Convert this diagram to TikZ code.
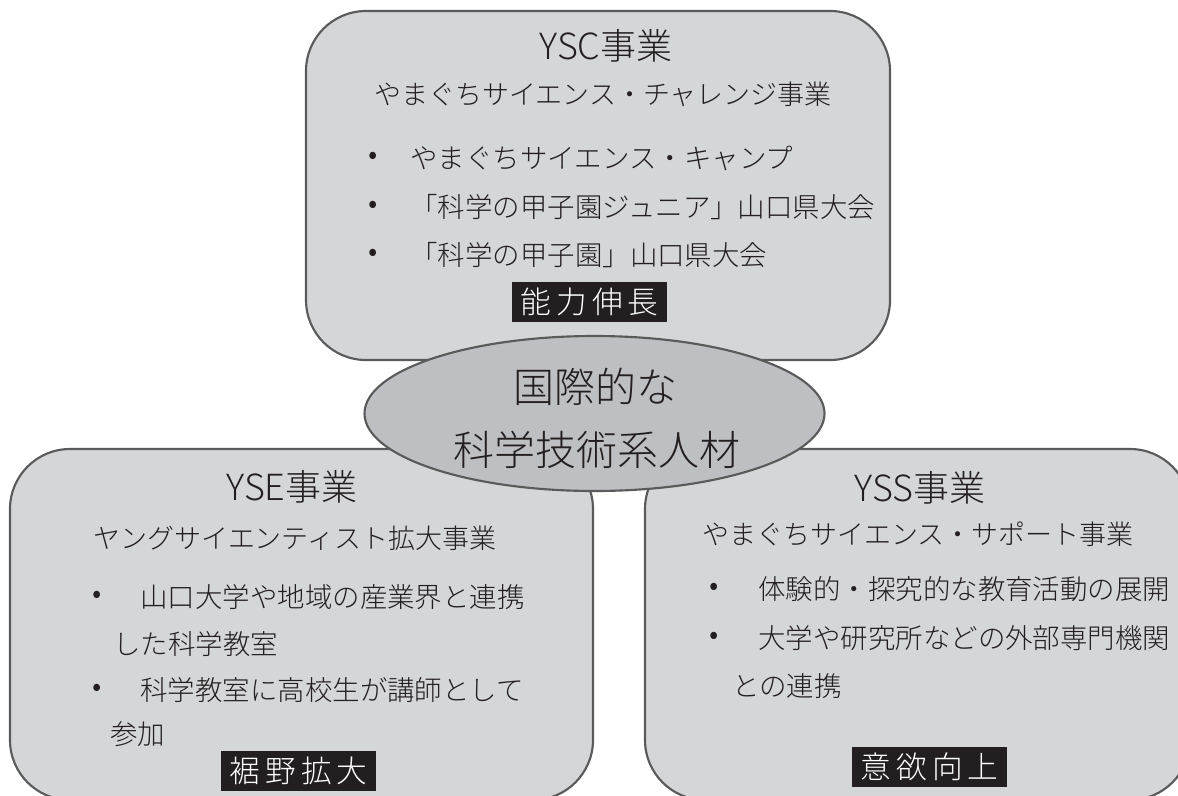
\documentclass[tikz,border=0pt]{standalone}
\usepackage{fontspec}
\IfFontExistsTF{Noto Sans CJK JP Light}
  {\setmainfont{Noto Sans CJK JP Light}}
  {\setmainfont{Noto Sans CJK JP}}
\usetikzlibrary{shapes.geometric}
\definecolor{edge}{HTML}{5A5A5A}
\definecolor{boxgray}{HTML}{D5D6D8}
\definecolor{coregray}{HTML}{BEBFC2}
\definecolor{ink}{HTML}{231F20}

\begin{document}
\begin{tikzpicture}[x=0.75pt,y=-0.75pt,
box/.style = {draw=edge, rectangle, rounded corners=45pt, fill=boxgray, line width=1.6pt},
core/.style = {draw=edge, ellipse, fill=coregray, line width=1.6pt, inner sep=0pt},
head/.style = {text=ink, font=\fontsize{27}{27}\selectfont, inner sep=0pt},
sub/.style = {text=ink, font=\fontsize{20.25}{20}\selectfont, inner sep=0pt, anchor=west},
item/.style = {sub, font=\fontsize{20.6}{20}\selectfont},
dot/.style = {text=ink, font=\fontsize{22}{22}\selectfont, inner sep=0pt},
tag/.style = {fill=ink, text=white, font=\fontsize{23}{23}\selectfont, minimum width=116.25pt, minimum height=30pt, inner sep=0pt}]

\useasboundingbox (0,0) rectangle (1178,796);

% three boxes
\node[box, minimum width=438pt, minimum height=261.75pt] (ysc) at (598,185.5) {};
\node[box, minimum width=437.25pt, minimum height=263.25pt] (yse) at (301.5,624.5) {};
\node[box, minimum width=408.75pt, minimum height=263.25pt] (yss) at (917.5,624.5) {};
\node[core, minimum width=345pt, minimum height=116.25pt] (goal) at (594.5,413.5) {};

% goal text
\node[head, font=\fontsize{30.75}{30}\selectfont] (g1) at (595,387) {国際的な};
\node[head, font=\fontsize{30.75}{30}\selectfont] (g2) at (597,450) {科学技術系人材};

% YSC
\node[head] (h1) at (606,46) {YSC事業};
\node[sub, anchor=center] (s1) at (603,94) {やまぐちサイエンス・チャレンジ事業};
\foreach \y in {158,207,255}
    \node[dot] (c\y) at (373,\y) {•};
\node[item] (c1) at (410,158) {やまぐちサイエンス・キャンプ};
\node[item] (c2) at (410,207) {「科学の甲子園ジュニア」山口県大会};
\node[item] (c3) at (410,255) {「科学の甲子園」山口県大会};
\node[tag] (t1) at (589.5,302) {能\,力\,伸\,長};

% YSE
\node[head] (h2) at (292,487) {YSE事業};
\node[sub] (s2) at (93,538) {ヤングサイエンティスト拡大事業};
\foreach \y in {597,690}
    \node[dot] (e\y) at (97,\y) {•};
\node[item] (e1) at (140,597) {山口大学や地域の産業界と連携};
\node[item] (e2) at (113,644) {した科学教室};
\node[item] (e3) at (140,690) {科学教室に高校生が講師として};
\node[item] (e4) at (110,734) {参加};
\node[tag] (t2) at (298.5,771) {裾\,野\,拡\,大};

% YSS
\node[head] (h3) at (920,488) {YSS事業};
\node[sub] (s3) at (702,534) {やまぐちサイエンス・サポート事業};
\foreach \y in {589,638}
    \node[dot] (p\y) at (714,\y) {•};
\node[item] (p1) at (758,589) {体験的・探究的な教育活動の展開};
\node[item] (p2) at (758,638) {大学や研究所などの外部専門機関};
\node[item] (p3) at (732,686) {との連携};
\node[tag] (t3) at (929.5,767) {意\,欲\,向\,上};

\end{tikzpicture}
\end{document}
